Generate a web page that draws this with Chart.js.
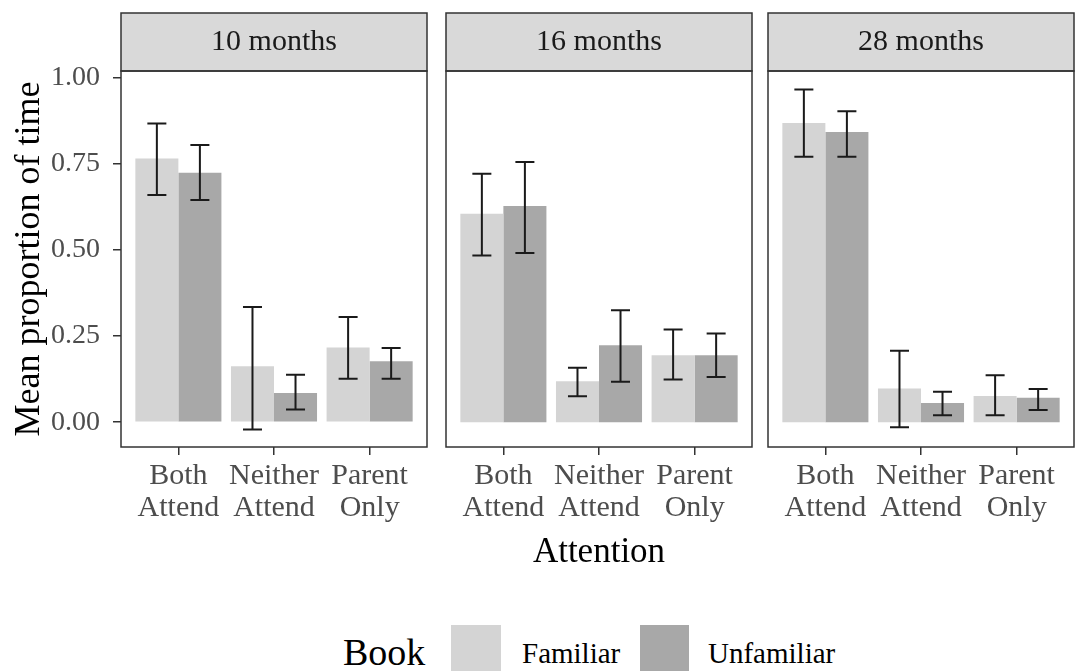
<!DOCTYPE html>
<html>
<head>
<meta charset="utf-8">
<script src="https://cdn.jsdelivr.net/npm/chart.js@4.4.0/dist/chart.umd.min.js"></script>
<style>
  body { margin: 0; background: #fff; width: 1076px; height: 671px; overflow: hidden; position: relative; font-family: "Liberation Serif", "Times New Roman", serif; }
  canvas { position: absolute; top: 0; }
  .leg { position: absolute; white-space: nowrap; line-height: 1; color: #000; }
  .key { position: absolute; top: 625px; width: 50px; height: 50px; }
</style>
</head>
<body>
<canvas id="p0" width="428" height="600" style="left:0px"></canvas>
<canvas id="p1" width="308" height="600" style="left:445px"></canvas>
<canvas id="p2" width="309" height="600" style="left:767px"></canvas>

<div class="leg" style="left:343px; top:633px; font-size:38px">Book</div>
<div class="key" id="keyFam" style="left:451px"></div>
<div class="leg" style="left:522px; top:639px; font-size:29px">Familiar</div>
<div class="key" id="keyUnf" style="left:640px; width:49px"></div>
<div class="leg" style="left:708px; top:639px; font-size:29px">Unfamiliar</div>

<script>
// facets, categories and values
const panels = ["10 months", "16 months", "28 months"];
const categories = [["Both", "Attend"], ["Neither", "Attend"], ["Parent", "Only"]];

const familiarMean = [[0.765, 0.162, 0.217], [0.605, 0.119, 0.194], [0.868, 0.098, 0.076]];
const familiarLow  = [[0.659, -0.021, 0.126], [0.484, 0.075, 0.124], [0.770, -0.015, 0.020]];
const familiarHigh = [[0.867, 0.334, 0.305], [0.721, 0.158, 0.269], [0.965, 0.207, 0.136]];

const unfamiliarMean = [[0.724, 0.085, 0.177], [0.627, 0.223, 0.194], [0.842, 0.056, 0.071]];
const unfamiliarLow  = [[0.645, 0.037, 0.126], [0.491, 0.117, 0.131], [0.770, 0.020, 0.035]];
const unfamiliarHigh = [[0.804, 0.138, 0.215], [0.755, 0.325, 0.257], [0.902, 0.088, 0.096]];

const yTicks = [0, 0.25, 0.5, 0.75, 1];

const familiarColor = "#d4d4d4";
const unfamiliarColor = "#a8a8a8";
const serif = '"Liberation Serif", "Times New Roman", serif';

document.getElementById("keyFam").style.background = familiarColor;
document.getElementById("keyUnf").style.background = unfamiliarColor;

Chart.defaults.font.family = serif;

// error bars drawn from each bar's own position
const errorBars = {
    id: "errorBars",
    afterDatasetsDraw(chart) {
        const ctx = chart.ctx;
        const y = chart.scales.y;
        ctx.save();
        ctx.strokeStyle = "#1a1a1a";
        ctx.lineWidth = 2;
        chart.data.datasets.forEach((ds, i) => {
            chart.getDatasetMeta(i).data.forEach((bar, j) => {
                const top = y.getPixelForValue(ds.high[j]);
                const bot = y.getPixelForValue(ds.low[j]);
                ctx.beginPath();
                ctx.moveTo(bar.x, top);
                ctx.lineTo(bar.x, bot);
                ctx.moveTo(bar.x - 9.5, top);
                ctx.lineTo(bar.x + 9.5, top);
                ctx.moveTo(bar.x - 9.5, bot);
                ctx.lineTo(bar.x + 9.5, bot);
                ctx.stroke();
            });
        });
        ctx.restore();
    }
};

// strip header + panel border
const facet = {
    id: "facet",
    afterDraw(chart, args, opts) {
        const { left, right, top, bottom } = chart.chartArea;
        const ctx = chart.ctx;
        ctx.save();
        ctx.fillStyle = "#d9d9d9";
        ctx.fillRect(left, 13, right - left, top - 13);
        ctx.strokeStyle = "#333333";
        ctx.lineWidth = 1.5;
        ctx.strokeRect(left, 13, right - left, top - 13);
        ctx.strokeRect(left, top, right - left, bottom - top);
        ctx.fillStyle = "#1a1a1a";
        ctx.font = "30px " + serif;
        ctx.textAlign = "center";
        ctx.textBaseline = "middle";
        ctx.fillText(opts.label, (left + right) / 2, (13 + top) / 2);
        ctx.restore();
    }
};

function makePanel(k) {
    const first = k === 0;
    new Chart(document.getElementById("p" + k), {
        type: "bar",
        data: {
            datasets: [{
                label: "Familiar",
                data: familiarMean[k].map((v, i) => ({ x: i, y: v })),
                low: familiarLow[k],
                high: familiarHigh[k],
                backgroundColor: familiarColor,
            }, {
                label: "Unfamiliar",
                data: unfamiliarMean[k].map((v, i) => ({ x: i, y: v })),
                low: unfamiliarLow[k],
                high: unfamiliarHigh[k],
                backgroundColor: unfamiliarColor,
            }],
        },
        options: {
            responsive: false,
            animation: false,
            devicePixelRatio: 1,
            layout: {
                padding: { top: 71, left: first ? 0 : 1, right: k === 2 ? 2 : 1, bottom: 0 }
            },
            datasets: {
                bar: { categoryPercentage: 0.9, barPercentage: 1, borderWidth: 0 }
            },
            plugins: {
                legend: { display: false },
                tooltip: { enabled: false },
                facet: { label: panels[k] },
            },
            scales: {
                x: {
                    type: "linear",
                    min: -0.6,
                    max: 2.6,
                    offset: false,
                    afterBuildTicks: (s) => { s.ticks = categories.map((c, i) => ({ value: i })); },
                    afterFit: (s) => { s.height = 600 - 447; },
                    grid: { display: true, offset: false, drawOnChartArea: false, drawTicks: true, tickLength: 8, color: "#333333", lineWidth: 1.5 },
                    border: { display: false },
                    ticks: {
                        callback: (v) => categories[v],
                        color: "#4d4d4d",
                        font: { size: 30, lineHeight: 1.08 },
                        padding: 5,
                        maxRotation: 0,
                        autoSkip: false,
                    },
                    title: {
                        display: k === 1,
                        text: "Attention",
                        color: "#000",
                        font: { size: 35 },
                        padding: { top: 0, bottom: 26 },
                    },
                },
                y: {
                    display: first,
                    min: -0.072,
                    max: 1.019,
                    afterBuildTicks: (s) => { s.ticks = yTicks.map((v) => ({ value: v })); },
                    afterFit: (s) => { s.width = first ? 121 : 0; },
                    grid: { display: true, drawOnChartArea: false, drawTicks: true, tickLength: 8, color: "#333333", lineWidth: 1.5 },
                    border: { display: false },
                    ticks: {
                        callback: (v) => v.toFixed(2),
                        color: "#4d4d4d",
                        font: { size: 28 },
                        padding: 13,
                    },
                    title: {
                        display: true,
                        text: "Mean proportion of time",
                        color: "#000",
                        font: { size: 36 },
                        padding: { top: 8, bottom: 0 },
                    },
                },
            },
        },
        plugins: [errorBars, facet]
    });
}

panels.forEach((p, k) => makePanel(k));
</script>
</body>
</html>
